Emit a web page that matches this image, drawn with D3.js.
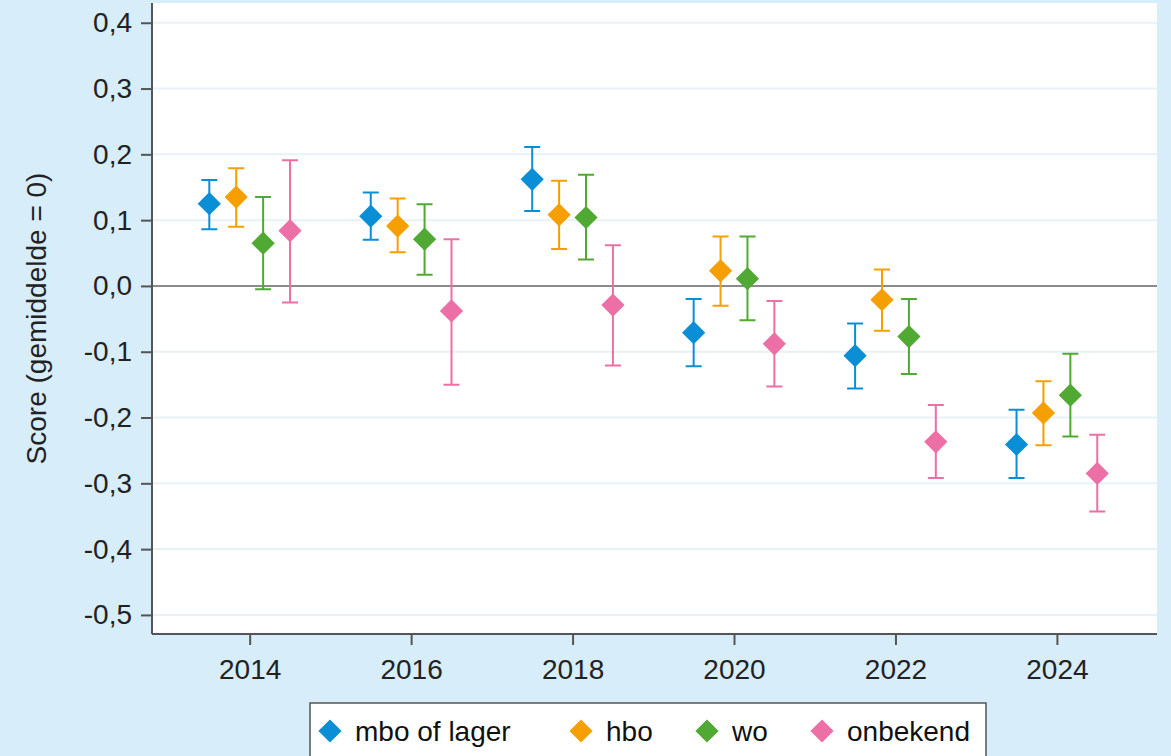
<!DOCTYPE html>
<html>
<head>
<meta charset="utf-8">
<script src="https://cdn.jsdelivr.net/npm/d3@7"></script>
<style>
  body { margin: 0; background: #d7edfa; }
  svg { display: block; }
  text { font-family: "Liberation Sans", Arial, sans-serif; }
</style>
</head>
<body>
<svg id="chart" width="1171" height="756"></svg>
<script>
// data
const years = [2014, 2016, 2018, 2020, 2022, 2024]
const groups = ["mbo of lager", "hbo", "wo", "onbekend"]
const colors = ["#0a8fd6", "#f59f00", "#50a932", "#ec6fa6"]
const yTicks = [-0.5, -0.4, -0.3, -0.2, -0.1, 0, 0.1, 0.2, 0.3, 0.4]

// score, lower bound, upper bound per year
const mbo = [
  [0.125, 0.086, 0.161], [0.106, 0.070, 0.142], [0.162, 0.114, 0.211],
  [-0.071, -0.122, -0.020], [-0.106, -0.156, -0.057], [-0.241, -0.292, -0.188]
]
const hbo = [
  [0.135, 0.090, 0.179], [0.091, 0.051, 0.133], [0.108, 0.056, 0.160],
  [0.023, -0.030, 0.075], [-0.021, -0.068, 0.025], [-0.193, -0.242, -0.145]
]
const wo = [
  [0.065, -0.005, 0.135], [0.071, 0.017, 0.124], [0.104, 0.040, 0.169],
  [0.011, -0.052, 0.075], [-0.077, -0.134, -0.020], [-0.166, -0.229, -0.103]
]
const onbekend = [
  [0.084, -0.025, 0.191], [-0.038, -0.150, 0.071], [-0.029, -0.121, 0.062],
  [-0.088, -0.153, -0.023], [-0.237, -0.292, -0.181], [-0.285, -0.343, -0.226]
]
const series = [mbo, hbo, wo, onbekend]

const svg = d3.select("#chart")
const pLeft = 152, pRight = 1157, pTop = 3, pBottom = 634
const offsets = [-0.5, -1 / 6, 1 / 6, 0.5]

const x = d3.scaleLinear().domain([2012.79, 2025.24]).range([pLeft, pRight])
const y = d3.scaleLinear().domain([-0.529, 0.43]).range([pBottom, pTop])

const nl = d3.formatLocale({ decimal: ",", thousands: ".", grouping: [3], currency: ["€", ""], minus: "-" })
const fmt = nl.format(".1f")

svg.append("rect")
  .attr("x", pLeft).attr("y", pTop)
  .attr("width", pRight - pLeft).attr("height", pBottom - pTop)
  .attr("fill", "#fff")

// grid lines
svg.append("g").selectAll("line")
  .data(yTicks.filter(d => d !== 0))
  .enter().append("line")
  .attr("x1", pLeft).attr("x2", pRight)
  .attr("y1", d => y(d)).attr("y2", d => y(d))
  .attr("stroke", "#e8f1f5").attr("stroke-width", 2)

// zero line
svg.append("line")
  .attr("x1", pLeft).attr("x2", pRight)
  .attr("y1", y(0)).attr("y2", y(0))
  .attr("stroke", "#8a8a8a").attr("stroke-width", 2)

// axes
const yAxis = svg.append("g")
  .attr("transform", `translate(${pLeft},0)`)
  .call(d3.axisLeft(y).tickValues(yTicks).tickFormat(fmt).tickSize(11).tickPadding(9))
const xAxis = svg.append("g")
  .attr("transform", `translate(0,${pBottom})`)
  .call(d3.axisBottom(x).tickValues(years).tickFormat(d3.format("d")).tickSize(11).tickPadding(14))

for (const ax of [yAxis, xAxis]) {
  ax.attr("font-family", null).attr("font-size", null)
  ax.select(".domain").attr("stroke", "#555").attr("stroke-width", 2)
  ax.selectAll(".tick line").attr("stroke", "#555").attr("stroke-width", 2)
  ax.selectAll("text").attr("font-size", 28).attr("fill", "#222")
}
xAxis.select(".domain").attr("d", `M${pLeft},0H${pRight}`)
yAxis.select(".domain").attr("d", `M0,${pTop}V${pBottom}`)

svg.append("text")
  .attr("transform", `translate(46,${(pTop + pBottom) / 2}) rotate(-90)`)
  .attr("text-anchor", "middle")
  .attr("font-size", 28).attr("fill", "#222")
  .text("Score (gemiddelde = 0)")

// error bars and markers
const diamond = d3.symbol().type(d3.symbolSquare).size(270)
const cap = 8

series.forEach(function (s, gi) {
  const g = svg.append("g").attr("class", "series")
  const col = colors[gi]
  const pts = s.map((d, i) => ({ x: x(years[i] + offsets[gi]), v: d[0], lo: d[1], hi: d[2] }))

  g.selectAll(".bar").data(pts).enter().append("path")
    .attr("d", d => `M${d.x},${y(d.hi)}V${y(d.lo)}M${d.x - cap},${y(d.hi)}H${d.x + cap}M${d.x - cap},${y(d.lo)}H${d.x + cap}`)
    .attr("stroke", col).attr("stroke-width", 2).attr("fill", "none")

  g.selectAll(".pt").data(pts).enter().append("path")
    .attr("d", diamond)
    .attr("transform", d => `translate(${d.x},${y(d.v)}) rotate(45)`)
    .attr("fill", col)
})

// legend
const legend = svg.append("g")
legend.append("rect")
  .attr("x", 310).attr("y", 703)
  .attr("width", 676).attr("height", 70)
  .attr("fill", "#fff").attr("stroke", "#555").attr("stroke-width", 1.5)

const legendX = [330, 581, 707, 822]
groups.forEach(function (name, i) {
  legend.append("path")
    .attr("d", diamond)
    .attr("transform", `translate(${legendX[i]},731) rotate(45)`)
    .attr("fill", colors[i])
  legend.append("text")
    .attr("x", legendX[i] + 25).attr("y", 741)
    .attr("font-size", 28).attr("fill", "#111")
    .text(name)
})
</script>
</body>
</html>
